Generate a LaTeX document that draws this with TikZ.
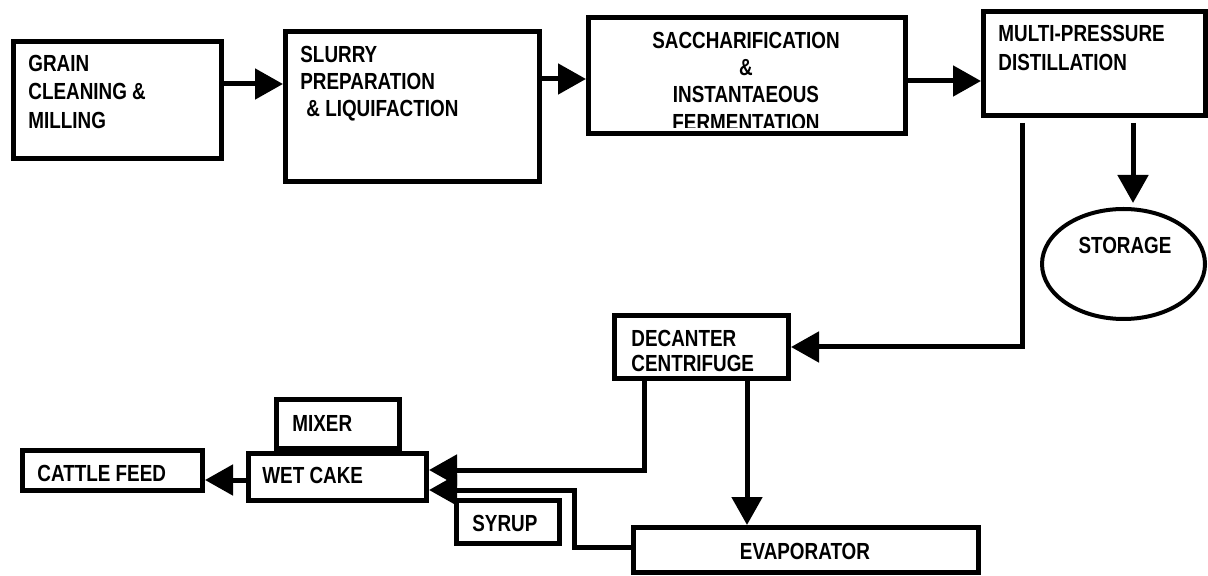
\documentclass[tikz,border=0pt]{standalone}
\usepackage{fontspec}
\setmainfont{Liberation Sans}[FakeStretch=0.81]
\usetikzlibrary{arrows.meta,calc,shapes.geometric}

\begin{document}
\begin{tikzpicture}[x=0.5pt,y=-0.5pt,
  box/.style={draw,line width=2.5pt,inner sep=0pt},
  flow/.style={line width=2.5pt,-{Triangle[length=14pt,width=15pt]}},
  lbl/.style={inner sep=0pt,align=left,font=\fontsize{11.65pt}{#1}\selectfont\bfseries},
  lbl/.default=14pt]
  \useasboundingbox (0,0) rectangle (1208,576);

  % main line
  \node[box,minimum width=104pt,minimum height=58.5pt] (grain) at (117.5,100) {};
  \node[box,minimum width=127pt,minimum height=75pt] (slurry) at (412.5,106.5) {};
  \node[box,minimum width=158.5pt,minimum height=58pt] (sacch) at (747,75.5) {};
  \node[box,minimum width=111pt,minimum height=52pt] (multi) at (1094.5,63.5) {};
  \node[draw,line width=2pt,ellipse,inner sep=0pt,minimum width=81.5pt,minimum height=55pt] (storage) at (1123.5,264) {};

  \node[lbl=14.25pt,anchor=north west] (grainT) at (28,54.7) {GRAIN\\CLEANING \&\\MILLING};
  \node[lbl=13.5pt,anchor=north west] (slurryT) at (300,45.7) {SLURRY\\PREPARATION\\\hspace*{3pt}\& LIQUIFACTION};
  \begin{scope}
    \clip (sacch.north west) rectangle ($(sacch.south east)+(0,-8.5)$);
    \node[lbl=13.65pt,align=center,anchor=north] (sacchT) at (746,31.7) {SACCHARIFICATION\\\&\\INSTANTAEOUS\\FERMENTATION};
  \end{scope}
  \node[lbl=14.5pt,anchor=north west] (multiT) at (998,24.7) {MULTI-PRESSURE\\DISTILLATION};
  \node[lbl] (storageT) at (1125,245) {STORAGE};

  % by-products
  \node[box,minimum width=87pt,minimum height=31.5pt] (decanter) at (701.5,347) {};
  \node[box,minimum width=172.5pt,minimum height=22.5pt] (evaporator) at (806,550) {};
  \node[box,minimum width=51.5pt,minimum height=21.5pt] (syrup) at (508,522) {};
  \node[box,minimum width=89pt,minimum height=23.5pt] (wetcake) at (337.5,477) {};
  \node[box,minimum width=61.5pt,minimum height=24.5pt] (mixer) at (338,424) {};
  \node[box,minimum width=90pt,minimum height=20pt] (cattle) at (112.5,470.5) {};

  \node[lbl=12.5pt,anchor=north west] (decanterT) at (631,329.7) {DECANTER\\CENTRIFUGE};
  \node[lbl] (evaporatorT) at (805,551) {EVAPORATOR};
  \node[lbl,anchor=west] (syrupT) at (472,523) {SYRUP};
  \node[lbl,anchor=west] (wetcakeT) at (262,475) {WET CAKE};
  \node[lbl,anchor=west] (mixerT) at (292,423) {MIXER};
  \node[lbl,anchor=west] (cattleT) at (37,473) {CATTLE FEED};

  % connectors
  \draw[flow] ($(grain.east)+(0,-16)$) coordinate (g1) -- (g1 -| slurry.west);
  \draw[flow] ($(slurry.east)+(0,-27.5)$) coordinate (s1) -- (s1 -| sacch.west);
  \draw[flow] ($(sacch.east)+(0,5.5)$) coordinate (c1) -- (c1 -| multi.west);
  \draw[flow,shorten <=2.5pt,shorten >=2pt] ($(multi.south)+(38.5,0)$) coordinate (m1) -- (m1 |- storage.north);
  \draw[flow,shorten <=2.5pt] ($(multi.south)+(-72.5,0)$) |- (decanter.east);
  \draw[flow] ($(decanter.south)+(-57.5,0)$) |- ($(wetcake.east)+(0,-7)$);
  \draw[flow] ($(decanter.south)+(45.5,0)$) coordinate (d2) -- (d2 |- evaporator.north);
  \draw[flow] ($(evaporator.west)+(0,-3)$) -- ++(-57,0) |- ($(wetcake.east)+(0,13)$);
  \draw[flow] ($(wetcake.west)+(0,3)$) coordinate (w1) -- (w1 -| cattle.east);
\end{tikzpicture}
\end{document}
